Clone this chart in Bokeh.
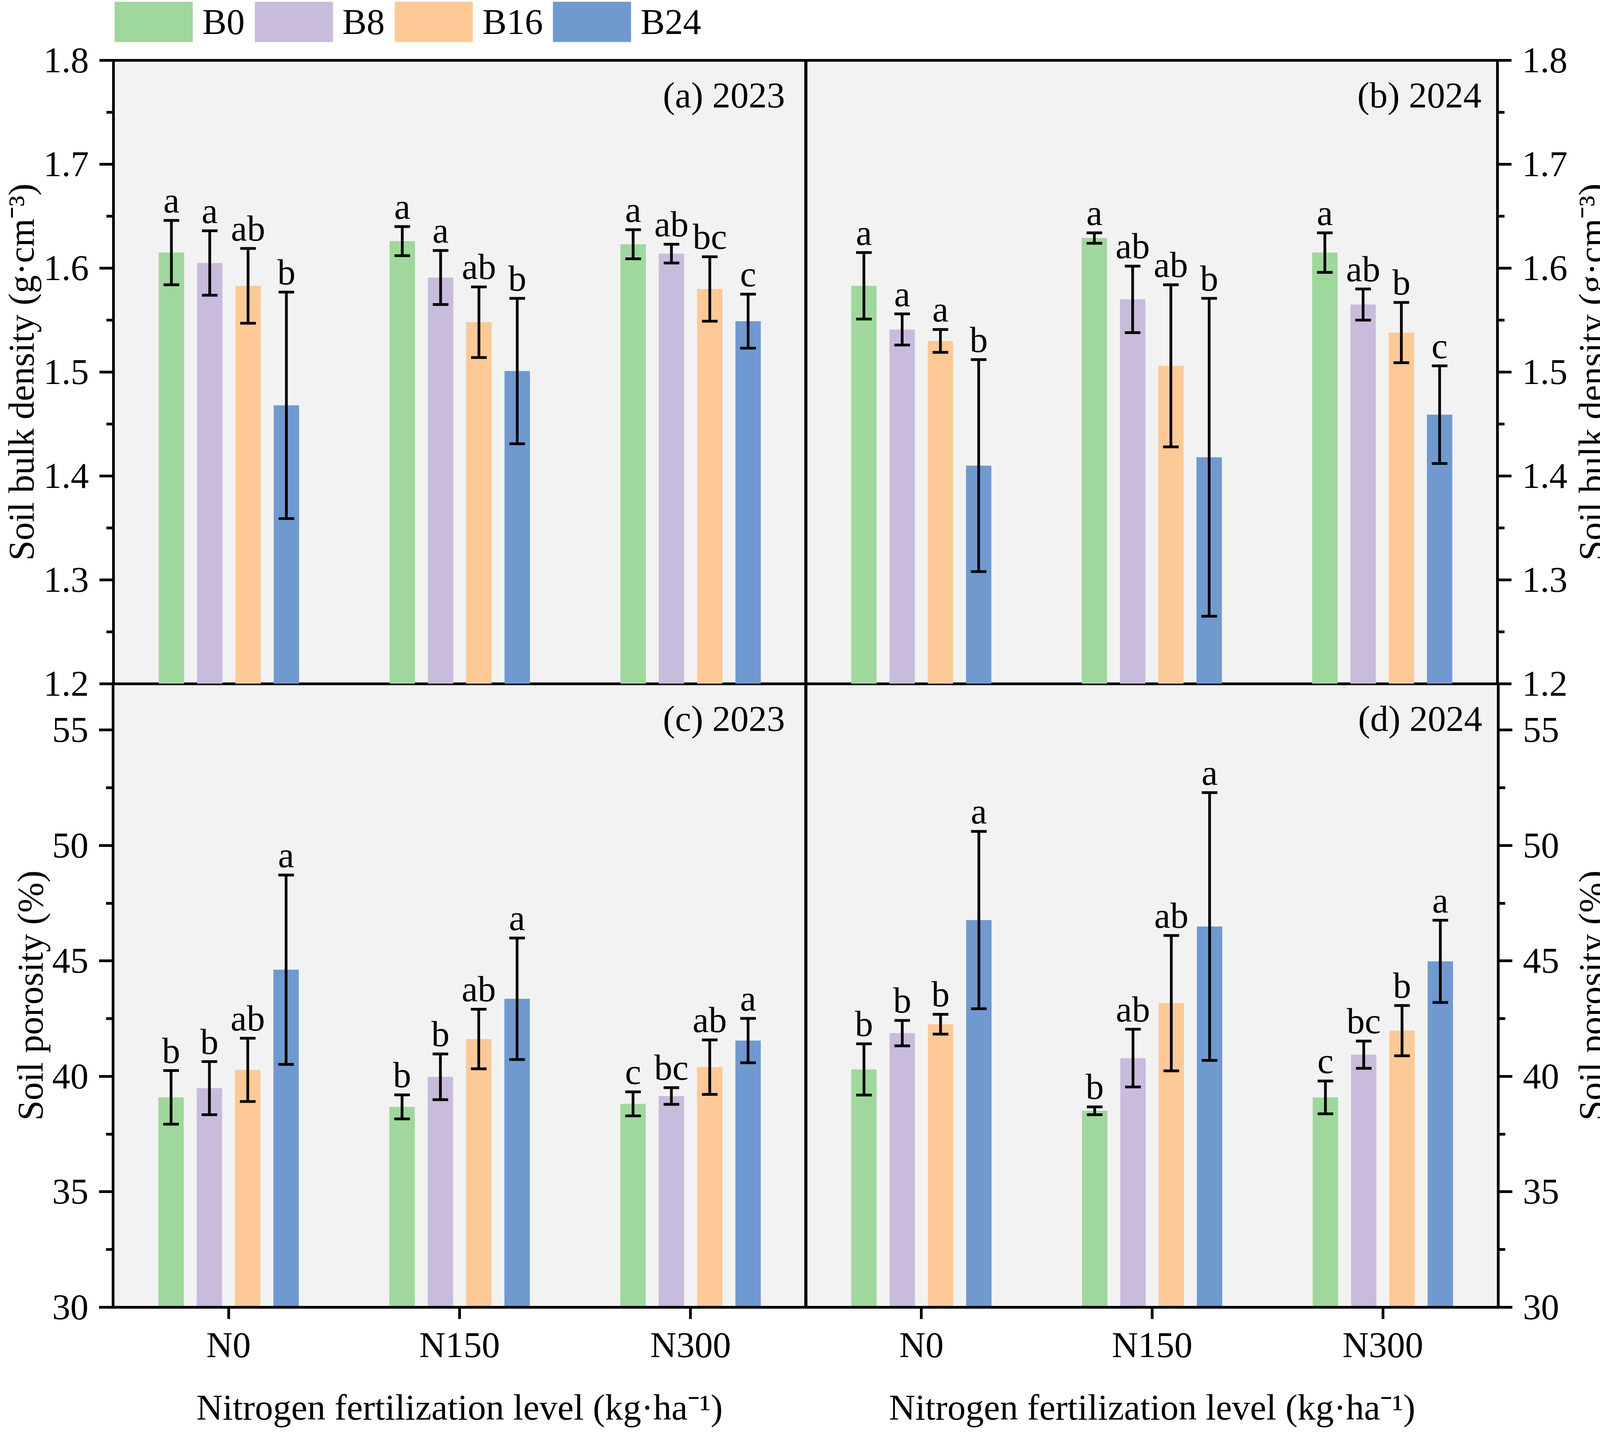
from bokeh.plotting import figure
from bokeh.models import (ColumnDataSource, FactorRange, Range1d, FixedTicker,
                          Whisker, TeeHead, Legend, LegendItem, Label)
from bokeh.transform import dodge
from bokeh.layouts import column, row
from bokeh.core.properties import value
from bokeh.embed import file_html
from bokeh.resources import INLINE

# ---------------- data ----------------
N_LEVELS = ["N0", "N150", "N300"]
TREATMENTS = ["B0", "B8", "B16", "B24"]

# each inner list: values for N0, N150, N300
bd2023_mean = [[1.615, 1.626, 1.623], [1.605, 1.591, 1.614], [1.583, 1.548, 1.580], [1.468, 1.501, 1.549]]
bd2023_err = [[0.031, 0.014, 0.014], [0.031, 0.026, 0.009], [0.036, 0.034, 0.031], [0.109, 0.070, 0.026]]
bd2023_let = [["a", "a", "a"], ["a", "a", "ab"], ["ab", "ab", "bc"], ["b", "b", "c"]]

bd2024_mean = [[1.583, 1.629, 1.615], [1.541, 1.570, 1.565], [1.530, 1.506, 1.538], [1.410, 1.418, 1.459]]
bd2024_err = [[0.032, 0.005, 0.019], [0.015, 0.032, 0.015], [0.011, 0.078, 0.029], [0.102, 0.153, 0.047]]
bd2024_let = [["a", "a", "a"], ["a", "ab", "ab"], ["a", "ab", "b"], ["b", "b", "c"]]

por2023_mean = [[39.09, 38.68, 38.81], [39.49, 39.98, 39.15], [40.28, 41.62, 40.40], [44.62, 43.36, 41.55]]
por2023_err = [[1.16, 0.52, 0.52], [1.15, 0.99, 0.36], [1.37, 1.29, 1.18], [4.10, 2.63, 0.96]]
por2023_let = [["b", "b", "c"], ["b", "b", "bc"], ["ab", "ab", "ab"], ["a", "a", "a"]]

por2024_mean = [[40.30, 38.51, 39.09], [41.87, 40.79, 40.94], [42.26, 43.17, 41.98], [46.77, 46.49, 44.98]]
por2024_err = [[1.11, 0.17, 0.71], [0.55, 1.25, 0.59], [0.43, 2.93, 1.09], [3.84, 5.80, 1.78]]
por2024_let = [["b", "b", "c"], ["b", "ab", "bc"], ["b", "ab", "b"], ["a", "a", "a"]]

bd_ticks = [1.2, 1.3, 1.4, 1.5, 1.6, 1.7, 1.8]
bd_minor = [1.25, 1.35, 1.45, 1.55, 1.65, 1.75]
por_ticks = [30, 35, 40, 45, 50, 55]
por_minor = [32.5, 37.5, 42.5, 47.5, 52.5]

BD_LABEL = "Soil bulk density (g·cm⁻³)"
POR_LABEL = "Soil porosity (%)"
X_LABEL = "Nitrogen fertilization level (kg·ha⁻¹)"

# ---------------- style ----------------
COLORS = ["#9FD79D", "#C8BBDB", "#FCC997", "#7099D0"]
OFFSETS = [-0.249, -0.083, 0.083, 0.249]
BAR_W = 0.11
FONT = "Liberation Serif"
FS = "93px"
LW = 7
OVER = 60          # overlap between stacked rows (room for edge tick labels)
H_LEG = 154        # legend strip height
W_LEFT, W_RIGHT = 2063, 1952
W_TOTAL = 4137
W_TITLE = W_TOTAL - W_LEFT - W_RIGHT
B_BOT = 304
H_TOP, H_BOT = OVER + 1596 + OVER, 1602 + B_BOT


def make_sources(mean, err, letters):
    out = []
    for i in range(len(TREATMENTS)):
        out.append(ColumnDataSource(dict(
            N=N_LEVELS,
            mean=mean[i],
            upper=[m + e for m, e in zip(mean[i], err[i])],
            lower=[m - e for m, e in zip(mean[i], err[i])],
            letter=letters[i],
        )))
    return out


def style_text(ax):
    ax.major_label_text_font = FONT
    ax.major_label_text_font_size = FS
    ax.major_label_text_color = "black"
    ax.axis_label_text_font = FONT
    ax.axis_label_text_font_size = FS
    ax.axis_label_text_font_style = "normal"
    ax.axis_label_text_color = "black"


def make_panel(sources, yr, ticks, minor, ylabel, tag, left, top):
    p = figure(
        x_range=FactorRange(factors=N_LEVELS), y_range=Range1d(*yr),
        width=W_LEFT if left else W_RIGHT,
        height=H_TOP if top else H_BOT,
        min_border_left=289 if left else 0,
        min_border_right=0 if left else 180,
        min_border_top=OVER if top else 0,
        min_border_bottom=OVER if top else B_BOT,
        x_axis_location=None if top else "below",
        y_axis_location="left" if left else "right",
        output_backend="svg", toolbar_location=None,
        background_fill_color="#F2F2F2",
        border_fill_color=None,
    )
    p.grid.visible = False
    p.outline_line_color = "black"
    p.outline_line_width = LW
    p.outline_line_alpha = 1.0

    ya = p.yaxis[0]
    ya.ticker = FixedTicker(ticks=ticks, minor_ticks=minor)
    if left:
        ya.axis_label = ylabel
        ya.axis_label_standoff = 2
    for ax in p.axis:
        ax.axis_line_width = LW
        ax.major_tick_line_width = LW
        ax.minor_tick_line_width = LW
        ax.major_tick_in = 0
        ax.minor_tick_in = 0
        style_text(ax)
    ya.major_tick_out = 36
    ya.minor_tick_out = 18
    ya.major_label_standoff = 27
    if not top:
        xa = p.xaxis[0]
        xa.major_tick_out = 30
        xa.major_label_standoff = 14
        xa.axis_label = X_LABEL
        xa.axis_label_standoff = 54

    for i, src in enumerate(sources):
        xs = dodge("N", OFFSETS[i], range=p.x_range)
        p.vbar(x=xs, top="mean", bottom=yr[0], width=BAR_W, source=src,
               fill_color=COLORS[i], line_color=None)
        w = Whisker(source=src, base=xs, upper="upper", lower="lower",
                    line_color="black", line_width=7, level="annotation",
                    upper_head=TeeHead(size=40, line_width=7, line_color="black"),
                    lower_head=TeeHead(size=40, line_width=7, line_color="black"))
        p.add_layout(w)
        p.text(x=xs, y="upper", text="letter", source=src, text_align="center",
               text_baseline="bottom", y_offset=0,
               text_font=value(FONT), text_font_size=value(FS), text_color="black")

    p.add_layout(Label(x=3, y=yr[1], x_offset=-54 if left else -41, y_offset=-37,
                       text=tag, text_align="right", text_baseline="top",
                       text_font=FONT, text_font_size=FS, text_color="black"))
    return p


def make_side_title(text, yr, height, top, bottom):
    # a narrow strip whose tick-less left axis carries the right-hand title,
    # so that it reads bottom-to-top like the reference
    t = figure(width=W_TITLE, height=height, x_range=Range1d(0, 1), y_range=Range1d(*yr),
               min_border_left=W_TITLE - 12, min_border_right=0, min_border_top=top,
               min_border_bottom=bottom, x_axis_location=None, y_axis_location="left",
               output_backend="svg", toolbar_location=None,
               background_fill_color=None, border_fill_color=None, outline_line_color=None)
    t.grid.visible = False
    ax = t.yaxis[0]
    ax.ticker = FixedTicker(ticks=[])
    ax.axis_line_color = None
    ax.major_tick_line_color = None
    ax.minor_tick_line_color = None
    ax.major_tick_out = 0
    ax.minor_tick_out = 0
    ax.major_label_standoff = 0
    ax.axis_label = text
    ax.axis_label_standoff = 0
    style_text(ax)
    return t


src_a = make_sources(bd2023_mean, bd2023_err, bd2023_let)
src_b = make_sources(bd2024_mean, bd2024_err, bd2024_let)
src_c = make_sources(por2023_mean, por2023_err, por2023_let)
src_d = make_sources(por2024_mean, por2024_err, por2024_let)

pa = make_panel(src_a, (1.2, 1.8), bd_ticks, bd_minor, BD_LABEL, "(a) 2023", True, True)
pb = make_panel(src_b, (1.2, 1.8), bd_ticks, bd_minor, BD_LABEL, "(b) 2024", False, True)
pc = make_panel(src_c, (30, 57), por_ticks, por_minor, POR_LABEL, "(c) 2023", True, False)
pd = make_panel(src_d, (30, 57), por_ticks, por_minor, POR_LABEL, "(d) 2024", False, False)
tb = make_side_title(BD_LABEL, (1.2, 1.8), H_TOP, OVER, OVER)
td = make_side_title(POR_LABEL, (30, 57), H_BOT, 0, B_BOT)

# legend strip: the four bar series of panel (a), drawn with zero width and
# outside this strip's y range, so only their legend entries show
leg = figure(width=W_TOTAL, height=H_LEG,
             x_range=FactorRange(factors=N_LEVELS), y_range=Range1d(-101, -100),
             min_border=0, x_axis_location=None, y_axis_location=None,
             output_backend="svg", toolbar_location=None,
             background_fill_color=None, border_fill_color=None, outline_line_color=None)
leg.grid.visible = False
items = []
for i, (t, src) in enumerate(zip(TREATMENTS, src_a)):
    r = leg.vbar(x=dodge("N", OFFSETS[i], range=leg.x_range), top="mean", bottom=1.2,
                 width=0, source=src, fill_color=COLORS[i], line_color=None)
    items.append(LegendItem(label=t, renderers=[r]))
legend = Legend(
    items=items, orientation="horizontal", location=(268, 34),
    glyph_width=250, glyph_height=129, label_standoff=0, spacing=0,
    padding=0, margin=0, border_line_color=None, background_fill_alpha=0,
    label_text_font=FONT, label_text_font_size=FS, label_text_color="black",
)
leg.add_layout(legend)

layout = column(leg,
                row(pa, pb, tb, margin=(-OVER, 0, 0, 0)),
                row(pc, pd, td, margin=(-OVER, 0, 0, 0)))

open("out.html", "w").write(file_html(layout, INLINE))
